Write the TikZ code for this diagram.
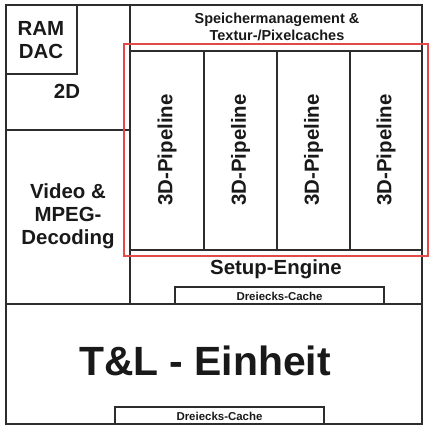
\documentclass[tikz,border=0pt]{standalone}
\usepackage{fontspec}
\setmainfont{Liberation Sans}
\definecolor{gpured}{RGB}{226,74,74}
\definecolor{gpuline}{RGB}{45,45,45}

\begin{document}
\begin{tikzpicture}[x=1bp, y=-1bp, line width=1.3bp, draw=gpuline]
  \tikzset{
    biglabel/.style={font=\bfseries\fontsize{20.5}{23}\selectfont, align=center, text=black!90},
    midlabel/.style={font=\bfseries\fontsize{14.5}{17.5}\selectfont, align=center, text=black!90},
    cachelabel/.style={font=\bfseries\fontsize{11.5}{13}\selectfont, text=black!90},
  }
  \useasboundingbox (0,0) rectangle (430,430);
  % Rahmen und Aufteilung
  \coordinate (NW) at (6,5);
  \coordinate (SE) at (422,424);
  \draw (NW) rectangle (SE);
  \draw (NW) rectangle (77,74);
  \draw (130,5) -- (130,304);
  \draw (6,130) -- (130,130);
  \draw (6,304) -- (422,304);
  % Pipelines
  \draw (130,51) rectangle (422,250);
  \foreach \x in {204,277,350} {
    \draw (\x,51) -- (\x,250);
  }
  \foreach \x [count=\i] in {167,240.5,313.5,386} {
    \node[biglabel, rotate=90] (pipe\i) at (\x,150) {3D-Pipeline};
  }
  % Caches
  \draw (175,287) rectangle (384,304);
  \draw (115,407) rectangle (324,424);
  % rote Markierung
  \draw[gpured, line width=1.8bp] (124,44) rectangle (428,256);
  % Beschriftungen
  \node[biglabel] (ramdac) at (41,40) {RAM\\DAC};
  \node[biglabel] (twod) at (67,91) {2D};
  \node[biglabel] (video) at (68,216) {Video \&\\MPEG-\\Decoding};
  \node[midlabel] (speicher) at (277,27) {Speichermanagement \&\\Textur-/Pixelcaches};
  \node[biglabel] (setup) at (276,269) {Setup-Engine};
  \node[cachelabel] (cacheA) at (279.5,296) {Dreiecks-Cache};
  \node[font=\bfseries\fontsize{41}{45}\selectfont, text=black!90] (tl) at (205,361) {T\&L - Einheit};
  \node[cachelabel] (cacheB) at (219.5,416) {Dreiecks-Cache};
\end{tikzpicture}
\end{document}
